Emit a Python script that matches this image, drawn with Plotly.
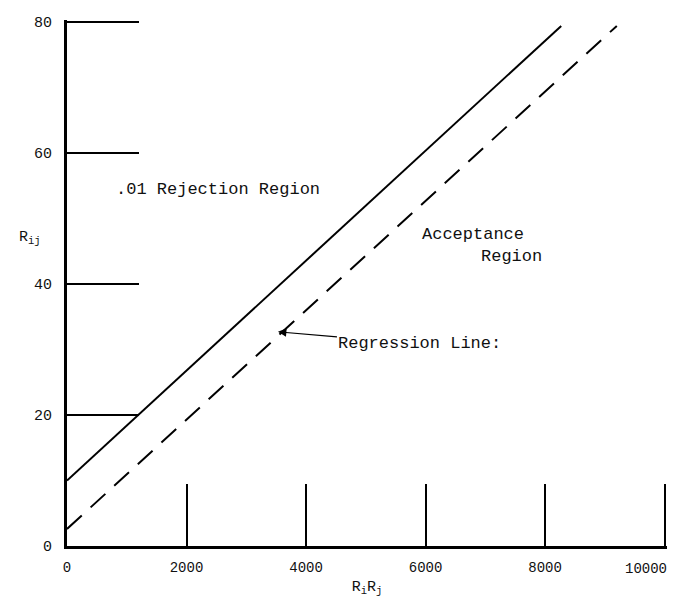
import plotly.graph_objects as go

# Data
boundary_x = [0, 8270]
boundary_y = [10.0, 79.4]
regression_x = [0, 9200]
regression_y = [2.6, 79.4]

x_ticks = [0, 2000, 4000, 6000, 8000, 10000]
x_ticklabels = ["0", "2000", "4000", "6000", "8000", "10000"]
y_ticks = [0, 20, 40, 60, 80]
y_ticklabels = ["0", "20", "40", "60", "80"]

FONT = "Liberation Mono"

fig = go.Figure()
fig.add_trace(go.Scatter(x=boundary_x, y=boundary_y, mode="lines",
                         line=dict(color="black", width=2), showlegend=False))
fig.add_trace(go.Scatter(x=regression_x, y=regression_y, mode="lines",
                         line=dict(color="black", width=2, dash="20px,12px"),
                         showlegend=False))

# last x tick label is right-aligned to its tick (drawn as annotation below)
shown_x_labels = x_ticklabels[:-1] + [""]

fig.update_layout(
    width=680, height=610,
    margin=dict(l=67, r=13, t=20, b=64),
    plot_bgcolor="white", paper_bgcolor="white",
    font=dict(family=FONT, color="#111", size=15),
    xaxis=dict(range=[0, 10040], tickvals=x_ticks, ticktext=shown_x_labels,
               showgrid=False, zeroline=False, showline=True,
               linecolor="black", linewidth=3,
               ticks="inside", ticklen=62, tickwidth=2, tickcolor="black",
               ticklabelstandoff=6,
               tickfont=dict(family=FONT, size=14),
               automargin=False,
               title=dict(text="R<sub>i</sub>R<sub>j</sub>", standoff=6,
                          font=dict(family=FONT, size=15))),
    yaxis=dict(range=[0, 80.3], tickvals=y_ticks, ticktext=y_ticklabels,
               showgrid=False, zeroline=False, showline=True,
               linecolor="black", linewidth=3,
               ticks="inside", ticklen=72, tickwidth=2, tickcolor="black",
               ticklabelstandoff=9, automargin=False,
               tickfont=dict(family=FONT, size=15)),
)

fig.add_annotation(x=x_ticks[-1], y=0, xref="x", yref="paper",
                   text=x_ticklabels[-1], showarrow=False,
                   xanchor="right", yanchor="top", xshift=4, yshift=-13,
                   font=dict(family=FONT, size=14))
fig.add_annotation(x=-0.062, y=0.585, xref="paper", yref="paper",
                   text="R<sub>ij</sub>", showarrow=False,
                   font=dict(family=FONT, size=15), xanchor="center")
fig.add_annotation(x=780, y=54.5, text=".01 Rejection Region", showarrow=False,
                   xanchor="left", font=dict(family=FONT, size=17))
fig.add_annotation(x=5900, y=47.5, text="Acceptance", showarrow=False,
                   xanchor="left", font=dict(family=FONT, size=17))
fig.add_annotation(x=6900, y=44.2, text="Region", showarrow=False,
                   xanchor="left", font=dict(family=FONT, size=17))
fig.add_annotation(x=3530, y=32.7, text="Regression Line:", showarrow=True,
                   ax=142, ay=12, arrowhead=2, arrowsize=1.4, arrowwidth=1.2,
                   arrowcolor="black", font=dict(family=FONT, size=17))

fig.write_html("out.html", config={"displayModeBar": False},
               post_script="document.body.style.margin='0';"
                           "document.body.style.overflow='hidden';")
